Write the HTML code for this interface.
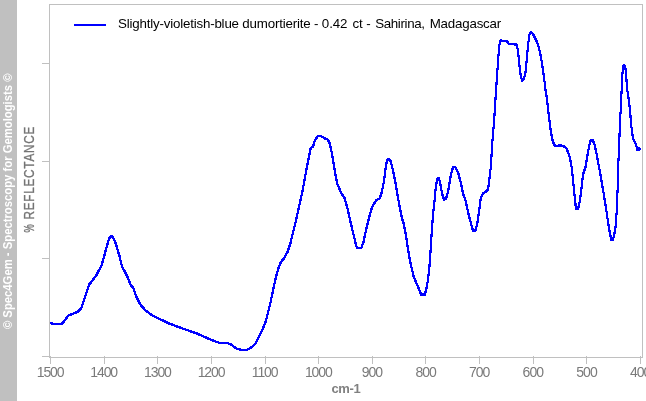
<!DOCTYPE html>
<html><head><meta charset="utf-8"><title>Spec4Gem FTIR</title>
<style>
html,body{margin:0;padding:0;background:#fff;overflow:hidden;}
body{width:646px;height:401px;position:relative;overflow:hidden;font-family:"Liberation Sans",sans-serif;}
#band{position:absolute;left:0;top:0;width:17px;height:401px;background:#c0c0c0;}
#wm{position:absolute;left:0;top:0;width:0;height:0;}
#wm span{position:absolute;white-space:nowrap;color:#fff;font-weight:bold;font-size:12.5px;line-height:12px;transform-origin:0 0;transform:translate(2px,329.1px) rotate(-90deg) scale(0.903,1);}
.yt{position:absolute;left:0;top:0;white-space:nowrap;color:#747474;-webkit-text-stroke:0.3px #747474;font-weight:normal;font-size:14px;line-height:14px;letter-spacing:0.3px;transform-origin:0 0;}
#yt1{transform:translate(21.5px,232.6px) rotate(-90deg) scale(0.66,1);}
#yt2{letter-spacing:0.9px;transform:translate(21.5px,219.6px) rotate(-90deg) scale(0.84,1);}
svg{position:absolute;left:0;top:0;}
.xl{position:absolute;top:363.5px;width:40px;text-align:center;font-size:14px;line-height:16px;color:#7a7a7a;letter-spacing:-1px;}
#xt{position:absolute;left:331.5px;top:381px;font-size:13px;line-height:16px;font-weight:bold;color:#808080;white-space:nowrap;letter-spacing:-0.4px}
#lg{position:absolute;left:118px;top:15.9px;letter-spacing:-0.14px;font-size:13.33px;line-height:16px;color:#000;white-space:nowrap;}
</style></head><body>
<div id="band"></div>
<div id="wm"><span>© Spec4Gem - Spectroscopy for Gemologists ©</span></div>
<div id="yt1" class="yt">%</div><div id="yt2" class="yt">REFLECTANCE</div>
<svg width="646" height="401" viewBox="0 0 646 401">
<g shape-rendering="crispEdges">
<rect x="49.5" y="4.5" width="593" height="353" fill="none" stroke="#c0c0c0" stroke-width="1"/>
<rect x="50" y="356" width="1" height="8" fill="#c0c0c0"/><rect x="104" y="356" width="1" height="8" fill="#c0c0c0"/><rect x="157" y="356" width="1" height="8" fill="#c0c0c0"/><rect x="211" y="356" width="1" height="8" fill="#c0c0c0"/><rect x="265" y="356" width="1" height="8" fill="#c0c0c0"/><rect x="318" y="356" width="1" height="8" fill="#c0c0c0"/><rect x="372" y="356" width="1" height="8" fill="#c0c0c0"/><rect x="425" y="356" width="1" height="8" fill="#c0c0c0"/><rect x="479" y="356" width="1" height="8" fill="#c0c0c0"/><rect x="533" y="356" width="1" height="8" fill="#c0c0c0"/><rect x="586" y="356" width="1" height="8" fill="#c0c0c0"/><rect x="640" y="356" width="1" height="8" fill="#c0c0c0"/><rect x="42" y="63" width="8" height="1" fill="#c0c0c0"/><rect x="42" y="161" width="8" height="1" fill="#c0c0c0"/><rect x="42" y="258" width="8" height="1" fill="#c0c0c0"/><rect x="42" y="356" width="8" height="1" fill="#c0c0c0"/>
<rect x="74" y="24" width="32" height="2" fill="#0000ff"/>
<g fill="none" stroke="#0000ff" stroke-width="1.1" stroke-linejoin="round" stroke-linecap="square">
<path transform="translate(-0.5,-0.5)" d="M51.1,323.3 L53.5,323.8 L62.0,323.8 L65.2,319.9 L68.2,315.6 L72.7,313.9 L77.4,311.9 L81.5,307.8 L83.9,300.3 L86.7,291.9 L89.0,284.8 L96.0,275.8 L101.7,265.2 L104.5,254.9 L107.8,242.8 L109.7,237.2 L111.4,236.1 L113.4,238.2 L115.9,243.7 L119.4,255.8 L122.2,267.0 L126.9,275.5 L130.7,284.8 L133.5,288.6 L136.3,296.5 L140.0,304.0 L145.6,310.6 L152.1,315.2 L157.5,318.0 L168.7,323.3 L178.0,326.8 L187.4,330.2 L196.7,333.4 L204.2,336.7 L211.7,340.1 L219.2,342.7 L227.6,343.1 L231.3,344.6 L236.0,348.3 L240.7,349.8 L247.2,349.8 L251.9,347.0 L255.6,343.3 L259.3,335.8 L263.1,328.3 L265.9,320.8 L268.7,309.6 L270.0,304.8 L272.8,291.7 L275.6,278.6 L278.4,268.3 L280.8,262.1 L284.0,258.4 L287.7,251.5 L290.5,243.1 L292.4,234.8 L296.1,219.9 L299.9,203.0 L302.7,190.0 L304.5,179.8 L307.3,164.9 L309.8,152.5 L310.6,148.2 L313.0,146.6 L314.8,140.6 L317.6,136.4 L321.4,136.3 L324.5,138.3 L327.5,139.3 L329.8,143.4 L331.6,151.8 L333.5,163.0 L335.4,174.2 L337.2,183.5 L341.0,192.8 L344.7,198.4 L347.5,208.6 L350.3,220.8 L353.1,232.9 L356.3,246.0 L357.3,247.8 L361.4,247.8 L363.4,242.3 L366.2,229.2 L369.5,216.1 L372.0,207.2 L375.9,200.7 L379.6,198.3 L381.5,193.3 L384.0,181.1 L385.6,168.0 L386.9,160.8 L388.6,158.7 L390.8,161.5 L393.3,171.8 L395.5,183.0 L397.4,194.2 L399.4,205.6 L401.5,216.2 L403.9,224.6 L406.2,236.8 L408.0,249.5 L410.5,263.0 L413.6,276.2 L417.4,285.5 L421.1,294.5 L424.9,294.5 L426.7,287.4 L428.2,278.4 L429.5,266.0 L430.5,252.0 L431.0,242.4 L432.0,229.3 L432.9,215.0 L434.4,201.7 L435.7,188.6 L437.0,179.3 L438.5,177.8 L440.0,182.1 L442.2,194.2 L444.1,199.8 L446.0,198.9 L447.9,192.3 L450.1,179.3 L452.0,169.9 L453.5,167.1 L455.3,167.1 L458.1,172.7 L460.9,183.0 L463.2,194.2 L465.6,200.7 L467.2,208.0 L468.8,215.3 L471.6,225.6 L473.1,230.9 L475.2,230.9 L477.2,224.2 L479.0,212.0 L480.8,197.7 L482.7,193.9 L485.9,191.7 L488.1,189.6 L489.3,179.9 L490.6,168.7 L491.3,158.6 L492.4,141.1 L493.7,126.1 L494.9,109.3 L495.8,93.0 L496.5,83.6 L497.7,66.7 L498.6,53.6 L499.5,44.3 L500.8,40.2 L503.6,41.5 L507.0,41.1 L508.9,44.3 L516.4,44.5 L517.9,49.9 L519.2,63.0 L520.5,74.2 L522.0,80.7 L523.3,80.2 L525.3,74.2 L526.6,61.1 L527.9,46.2 L529.4,35.0 L530.7,32.1 L532.6,33.5 L535.4,38.7 L537.9,44.3 L540.1,52.7 L542.0,63.0 L543.5,74.2 L544.8,83.6 L545.9,93.8 L546.6,96.2 L548.5,113.0 L550.4,128.0 L552.2,139.2 L554.1,144.8 L556.4,146.3 L559.7,145.2 L563.5,146.3 L566.3,148.2 L568.1,152.3 L570.0,158.0 L571.9,168.7 L573.2,181.8 L574.5,195.0 L576.0,209.1 L578.0,209.1 L580.0,200.5 L581.3,190.0 L583.0,174.5 L585.4,167.3 L587.3,156.1 L589.2,145.8 L590.5,140.8 L592.4,139.9 L594.2,143.0 L596.1,151.4 L598.0,161.7 L599.8,171.1 L601.7,182.0 L603.6,193.1 L606.0,208.0 L608.2,223.0 L610.1,234.2 L611.4,240.0 L613.0,240.0 L615.3,229.5 L616.7,211.8 L617.6,189.3 L618.1,170.0 L619.5,135.6 L620.0,120.0 L620.6,111.7 L621.7,89.3 L622.4,74.3 L623.0,66.2 L624.1,65.0 L625.3,66.5 L626.2,76.2 L627.2,89.3 L629.2,102.3 L630.3,114.0 L631.2,125.0 L632.9,138.4 L635.3,143.0 L637.2,148.6 L639.6,149.0"/>
<path transform="translate(0.5,-0.5)" d="M51.1,323.3 L53.5,323.8 L62.0,323.8 L65.2,319.9 L68.2,315.6 L72.7,313.9 L77.4,311.9 L81.5,307.8 L83.9,300.3 L86.7,291.9 L89.0,284.8 L96.0,275.8 L101.7,265.2 L104.5,254.9 L107.8,242.8 L109.7,237.2 L111.4,236.1 L113.4,238.2 L115.9,243.7 L119.4,255.8 L122.2,267.0 L126.9,275.5 L130.7,284.8 L133.5,288.6 L136.3,296.5 L140.0,304.0 L145.6,310.6 L152.1,315.2 L157.5,318.0 L168.7,323.3 L178.0,326.8 L187.4,330.2 L196.7,333.4 L204.2,336.7 L211.7,340.1 L219.2,342.7 L227.6,343.1 L231.3,344.6 L236.0,348.3 L240.7,349.8 L247.2,349.8 L251.9,347.0 L255.6,343.3 L259.3,335.8 L263.1,328.3 L265.9,320.8 L268.7,309.6 L270.0,304.8 L272.8,291.7 L275.6,278.6 L278.4,268.3 L280.8,262.1 L284.0,258.4 L287.7,251.5 L290.5,243.1 L292.4,234.8 L296.1,219.9 L299.9,203.0 L302.7,190.0 L304.5,179.8 L307.3,164.9 L309.8,152.5 L310.6,148.2 L313.0,146.6 L314.8,140.6 L317.6,136.4 L321.4,136.3 L324.5,138.3 L327.5,139.3 L329.8,143.4 L331.6,151.8 L333.5,163.0 L335.4,174.2 L337.2,183.5 L341.0,192.8 L344.7,198.4 L347.5,208.6 L350.3,220.8 L353.1,232.9 L356.3,246.0 L357.3,247.8 L361.4,247.8 L363.4,242.3 L366.2,229.2 L369.5,216.1 L372.0,207.2 L375.9,200.7 L379.6,198.3 L381.5,193.3 L384.0,181.1 L385.6,168.0 L386.9,160.8 L388.6,158.7 L390.8,161.5 L393.3,171.8 L395.5,183.0 L397.4,194.2 L399.4,205.6 L401.5,216.2 L403.9,224.6 L406.2,236.8 L408.0,249.5 L410.5,263.0 L413.6,276.2 L417.4,285.5 L421.1,294.5 L424.9,294.5 L426.7,287.4 L428.2,278.4 L429.5,266.0 L430.5,252.0 L431.0,242.4 L432.0,229.3 L432.9,215.0 L434.4,201.7 L435.7,188.6 L437.0,179.3 L438.5,177.8 L440.0,182.1 L442.2,194.2 L444.1,199.8 L446.0,198.9 L447.9,192.3 L450.1,179.3 L452.0,169.9 L453.5,167.1 L455.3,167.1 L458.1,172.7 L460.9,183.0 L463.2,194.2 L465.6,200.7 L467.2,208.0 L468.8,215.3 L471.6,225.6 L473.1,230.9 L475.2,230.9 L477.2,224.2 L479.0,212.0 L480.8,197.7 L482.7,193.9 L485.9,191.7 L488.1,189.6 L489.3,179.9 L490.6,168.7 L491.3,158.6 L492.4,141.1 L493.7,126.1 L494.9,109.3 L495.8,93.0 L496.5,83.6 L497.7,66.7 L498.6,53.6 L499.5,44.3 L500.8,40.2 L503.6,41.5 L507.0,41.1 L508.9,44.3 L516.4,44.5 L517.9,49.9 L519.2,63.0 L520.5,74.2 L522.0,80.7 L523.3,80.2 L525.3,74.2 L526.6,61.1 L527.9,46.2 L529.4,35.0 L530.7,32.1 L532.6,33.5 L535.4,38.7 L537.9,44.3 L540.1,52.7 L542.0,63.0 L543.5,74.2 L544.8,83.6 L545.9,93.8 L546.6,96.2 L548.5,113.0 L550.4,128.0 L552.2,139.2 L554.1,144.8 L556.4,146.3 L559.7,145.2 L563.5,146.3 L566.3,148.2 L568.1,152.3 L570.0,158.0 L571.9,168.7 L573.2,181.8 L574.5,195.0 L576.0,209.1 L578.0,209.1 L580.0,200.5 L581.3,190.0 L583.0,174.5 L585.4,167.3 L587.3,156.1 L589.2,145.8 L590.5,140.8 L592.4,139.9 L594.2,143.0 L596.1,151.4 L598.0,161.7 L599.8,171.1 L601.7,182.0 L603.6,193.1 L606.0,208.0 L608.2,223.0 L610.1,234.2 L611.4,240.0 L613.0,240.0 L615.3,229.5 L616.7,211.8 L617.6,189.3 L618.1,170.0 L619.5,135.6 L620.0,120.0 L620.6,111.7 L621.7,89.3 L622.4,74.3 L623.0,66.2 L624.1,65.0 L625.3,66.5 L626.2,76.2 L627.2,89.3 L629.2,102.3 L630.3,114.0 L631.2,125.0 L632.9,138.4 L635.3,143.0 L637.2,148.6 L639.6,149.0"/>
<path transform="translate(-0.5,0.5)" d="M51.1,323.3 L53.5,323.8 L62.0,323.8 L65.2,319.9 L68.2,315.6 L72.7,313.9 L77.4,311.9 L81.5,307.8 L83.9,300.3 L86.7,291.9 L89.0,284.8 L96.0,275.8 L101.7,265.2 L104.5,254.9 L107.8,242.8 L109.7,237.2 L111.4,236.1 L113.4,238.2 L115.9,243.7 L119.4,255.8 L122.2,267.0 L126.9,275.5 L130.7,284.8 L133.5,288.6 L136.3,296.5 L140.0,304.0 L145.6,310.6 L152.1,315.2 L157.5,318.0 L168.7,323.3 L178.0,326.8 L187.4,330.2 L196.7,333.4 L204.2,336.7 L211.7,340.1 L219.2,342.7 L227.6,343.1 L231.3,344.6 L236.0,348.3 L240.7,349.8 L247.2,349.8 L251.9,347.0 L255.6,343.3 L259.3,335.8 L263.1,328.3 L265.9,320.8 L268.7,309.6 L270.0,304.8 L272.8,291.7 L275.6,278.6 L278.4,268.3 L280.8,262.1 L284.0,258.4 L287.7,251.5 L290.5,243.1 L292.4,234.8 L296.1,219.9 L299.9,203.0 L302.7,190.0 L304.5,179.8 L307.3,164.9 L309.8,152.5 L310.6,148.2 L313.0,146.6 L314.8,140.6 L317.6,136.4 L321.4,136.3 L324.5,138.3 L327.5,139.3 L329.8,143.4 L331.6,151.8 L333.5,163.0 L335.4,174.2 L337.2,183.5 L341.0,192.8 L344.7,198.4 L347.5,208.6 L350.3,220.8 L353.1,232.9 L356.3,246.0 L357.3,247.8 L361.4,247.8 L363.4,242.3 L366.2,229.2 L369.5,216.1 L372.0,207.2 L375.9,200.7 L379.6,198.3 L381.5,193.3 L384.0,181.1 L385.6,168.0 L386.9,160.8 L388.6,158.7 L390.8,161.5 L393.3,171.8 L395.5,183.0 L397.4,194.2 L399.4,205.6 L401.5,216.2 L403.9,224.6 L406.2,236.8 L408.0,249.5 L410.5,263.0 L413.6,276.2 L417.4,285.5 L421.1,294.5 L424.9,294.5 L426.7,287.4 L428.2,278.4 L429.5,266.0 L430.5,252.0 L431.0,242.4 L432.0,229.3 L432.9,215.0 L434.4,201.7 L435.7,188.6 L437.0,179.3 L438.5,177.8 L440.0,182.1 L442.2,194.2 L444.1,199.8 L446.0,198.9 L447.9,192.3 L450.1,179.3 L452.0,169.9 L453.5,167.1 L455.3,167.1 L458.1,172.7 L460.9,183.0 L463.2,194.2 L465.6,200.7 L467.2,208.0 L468.8,215.3 L471.6,225.6 L473.1,230.9 L475.2,230.9 L477.2,224.2 L479.0,212.0 L480.8,197.7 L482.7,193.9 L485.9,191.7 L488.1,189.6 L489.3,179.9 L490.6,168.7 L491.3,158.6 L492.4,141.1 L493.7,126.1 L494.9,109.3 L495.8,93.0 L496.5,83.6 L497.7,66.7 L498.6,53.6 L499.5,44.3 L500.8,40.2 L503.6,41.5 L507.0,41.1 L508.9,44.3 L516.4,44.5 L517.9,49.9 L519.2,63.0 L520.5,74.2 L522.0,80.7 L523.3,80.2 L525.3,74.2 L526.6,61.1 L527.9,46.2 L529.4,35.0 L530.7,32.1 L532.6,33.5 L535.4,38.7 L537.9,44.3 L540.1,52.7 L542.0,63.0 L543.5,74.2 L544.8,83.6 L545.9,93.8 L546.6,96.2 L548.5,113.0 L550.4,128.0 L552.2,139.2 L554.1,144.8 L556.4,146.3 L559.7,145.2 L563.5,146.3 L566.3,148.2 L568.1,152.3 L570.0,158.0 L571.9,168.7 L573.2,181.8 L574.5,195.0 L576.0,209.1 L578.0,209.1 L580.0,200.5 L581.3,190.0 L583.0,174.5 L585.4,167.3 L587.3,156.1 L589.2,145.8 L590.5,140.8 L592.4,139.9 L594.2,143.0 L596.1,151.4 L598.0,161.7 L599.8,171.1 L601.7,182.0 L603.6,193.1 L606.0,208.0 L608.2,223.0 L610.1,234.2 L611.4,240.0 L613.0,240.0 L615.3,229.5 L616.7,211.8 L617.6,189.3 L618.1,170.0 L619.5,135.6 L620.0,120.0 L620.6,111.7 L621.7,89.3 L622.4,74.3 L623.0,66.2 L624.1,65.0 L625.3,66.5 L626.2,76.2 L627.2,89.3 L629.2,102.3 L630.3,114.0 L631.2,125.0 L632.9,138.4 L635.3,143.0 L637.2,148.6 L639.6,149.0"/>
<path transform="translate(0.5,0.5)" d="M51.1,323.3 L53.5,323.8 L62.0,323.8 L65.2,319.9 L68.2,315.6 L72.7,313.9 L77.4,311.9 L81.5,307.8 L83.9,300.3 L86.7,291.9 L89.0,284.8 L96.0,275.8 L101.7,265.2 L104.5,254.9 L107.8,242.8 L109.7,237.2 L111.4,236.1 L113.4,238.2 L115.9,243.7 L119.4,255.8 L122.2,267.0 L126.9,275.5 L130.7,284.8 L133.5,288.6 L136.3,296.5 L140.0,304.0 L145.6,310.6 L152.1,315.2 L157.5,318.0 L168.7,323.3 L178.0,326.8 L187.4,330.2 L196.7,333.4 L204.2,336.7 L211.7,340.1 L219.2,342.7 L227.6,343.1 L231.3,344.6 L236.0,348.3 L240.7,349.8 L247.2,349.8 L251.9,347.0 L255.6,343.3 L259.3,335.8 L263.1,328.3 L265.9,320.8 L268.7,309.6 L270.0,304.8 L272.8,291.7 L275.6,278.6 L278.4,268.3 L280.8,262.1 L284.0,258.4 L287.7,251.5 L290.5,243.1 L292.4,234.8 L296.1,219.9 L299.9,203.0 L302.7,190.0 L304.5,179.8 L307.3,164.9 L309.8,152.5 L310.6,148.2 L313.0,146.6 L314.8,140.6 L317.6,136.4 L321.4,136.3 L324.5,138.3 L327.5,139.3 L329.8,143.4 L331.6,151.8 L333.5,163.0 L335.4,174.2 L337.2,183.5 L341.0,192.8 L344.7,198.4 L347.5,208.6 L350.3,220.8 L353.1,232.9 L356.3,246.0 L357.3,247.8 L361.4,247.8 L363.4,242.3 L366.2,229.2 L369.5,216.1 L372.0,207.2 L375.9,200.7 L379.6,198.3 L381.5,193.3 L384.0,181.1 L385.6,168.0 L386.9,160.8 L388.6,158.7 L390.8,161.5 L393.3,171.8 L395.5,183.0 L397.4,194.2 L399.4,205.6 L401.5,216.2 L403.9,224.6 L406.2,236.8 L408.0,249.5 L410.5,263.0 L413.6,276.2 L417.4,285.5 L421.1,294.5 L424.9,294.5 L426.7,287.4 L428.2,278.4 L429.5,266.0 L430.5,252.0 L431.0,242.4 L432.0,229.3 L432.9,215.0 L434.4,201.7 L435.7,188.6 L437.0,179.3 L438.5,177.8 L440.0,182.1 L442.2,194.2 L444.1,199.8 L446.0,198.9 L447.9,192.3 L450.1,179.3 L452.0,169.9 L453.5,167.1 L455.3,167.1 L458.1,172.7 L460.9,183.0 L463.2,194.2 L465.6,200.7 L467.2,208.0 L468.8,215.3 L471.6,225.6 L473.1,230.9 L475.2,230.9 L477.2,224.2 L479.0,212.0 L480.8,197.7 L482.7,193.9 L485.9,191.7 L488.1,189.6 L489.3,179.9 L490.6,168.7 L491.3,158.6 L492.4,141.1 L493.7,126.1 L494.9,109.3 L495.8,93.0 L496.5,83.6 L497.7,66.7 L498.6,53.6 L499.5,44.3 L500.8,40.2 L503.6,41.5 L507.0,41.1 L508.9,44.3 L516.4,44.5 L517.9,49.9 L519.2,63.0 L520.5,74.2 L522.0,80.7 L523.3,80.2 L525.3,74.2 L526.6,61.1 L527.9,46.2 L529.4,35.0 L530.7,32.1 L532.6,33.5 L535.4,38.7 L537.9,44.3 L540.1,52.7 L542.0,63.0 L543.5,74.2 L544.8,83.6 L545.9,93.8 L546.6,96.2 L548.5,113.0 L550.4,128.0 L552.2,139.2 L554.1,144.8 L556.4,146.3 L559.7,145.2 L563.5,146.3 L566.3,148.2 L568.1,152.3 L570.0,158.0 L571.9,168.7 L573.2,181.8 L574.5,195.0 L576.0,209.1 L578.0,209.1 L580.0,200.5 L581.3,190.0 L583.0,174.5 L585.4,167.3 L587.3,156.1 L589.2,145.8 L590.5,140.8 L592.4,139.9 L594.2,143.0 L596.1,151.4 L598.0,161.7 L599.8,171.1 L601.7,182.0 L603.6,193.1 L606.0,208.0 L608.2,223.0 L610.1,234.2 L611.4,240.0 L613.0,240.0 L615.3,229.5 L616.7,211.8 L617.6,189.3 L618.1,170.0 L619.5,135.6 L620.0,120.0 L620.6,111.7 L621.7,89.3 L622.4,74.3 L623.0,66.2 L624.1,65.0 L625.3,66.5 L626.2,76.2 L627.2,89.3 L629.2,102.3 L630.3,114.0 L631.2,125.0 L632.9,138.4 L635.3,143.0 L637.2,148.6 L639.6,149.0"/>
</g>
<rect x="636" y="147" width="4" height="4" fill="#0000ff"/><rect x="640" y="148" width="1" height="2" fill="#0000ff"/>
</g>
</svg>
<div id="lg"><span style="letter-spacing:-0.19px">Slightly-violetish-blue dumortierite</span> - 0.42 <span style="margin-left:1.7px">ct</span> - <span style="margin-left:1.2px;letter-spacing:-0.36px">Sahirina,</span> <span style="margin-left:1.5px;letter-spacing:-0.2px">Madagascar</span></div>
<div class="xl" style="left:30.1px;letter-spacing:-1.1px">1500</div><div class="xl" style="left:83.7px;letter-spacing:-1.1px">1400</div><div class="xl" style="left:137.4px;letter-spacing:-1.1px">1300</div><div class="xl" style="left:191.0px;letter-spacing:-1.1px">1200</div><div class="xl" style="left:244.6px;letter-spacing:-1.1px">1100</div><div class="xl" style="left:298.3px;letter-spacing:-1.1px">1000</div><div class="xl" style="left:351.9px">900</div><div class="xl" style="left:405.6px">800</div><div class="xl" style="left:459.2px">700</div><div class="xl" style="left:512.8px">600</div><div class="xl" style="left:566.5px">500</div><div class="xl" style="left:620.1px">400</div>
<div id="xt">cm-1</div>
</body></html>
